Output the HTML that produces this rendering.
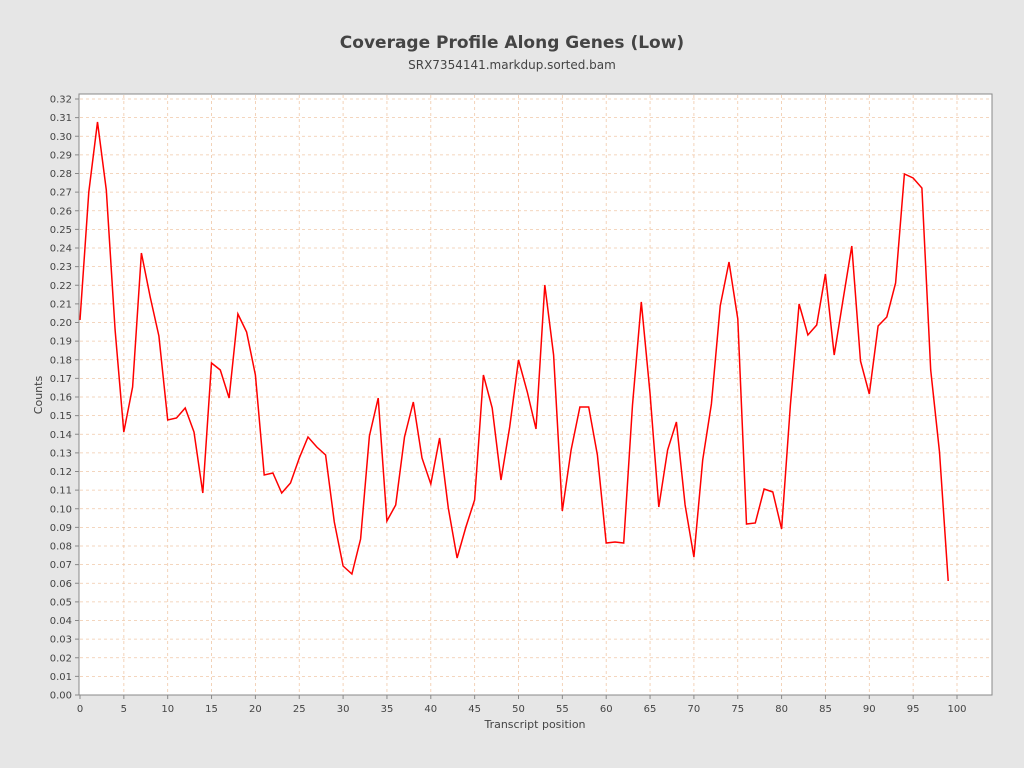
<!DOCTYPE html>
<html><head><meta charset="utf-8"><style>
body{margin:0;background:#e6e6e6;}
svg{display:block;font-family:"DejaVu Sans","Liberation Sans",sans-serif;}
</style></head><body>
<svg width="1024" height="768" xmlns="http://www.w3.org/2000/svg">
<rect width="1024" height="768" fill="#e6e6e6"/>
<text x="512" y="48" text-anchor="middle" font-size="17" font-weight="bold" fill="#444">Coverage Profile Along Genes (Low)</text>
<text x="512" y="69" text-anchor="middle" font-size="12" fill="#444">SRX7354141.markdup.sorted.bam</text>
<rect x="79" y="94" width="913" height="601" fill="#fff" stroke="#888"/>
<g id="grid" stroke="#f0c8a8" stroke-width="0.8" stroke-dasharray="3,3"></g>
<g id="ticks" font-size="10" fill="#444"></g>
<polyline id="line" fill="none" stroke="#ff0000" stroke-width="1.5"/>
<text x="535" y="728" text-anchor="middle" font-size="11" fill="#444">Transcript position</text>
<text x="42" y="395" text-anchor="middle" font-size="11" fill="#444" transform="rotate(-90 42 395)">Counts</text>
</svg>
<script>
var ns="http://www.w3.org/2000/svg",g=document.getElementById("grid"),t=document.getElementById("ticks");
function el(p,tag,a,txt){var e=document.createElementNS(ns,tag);for(var k in a)e.setAttribute(k,a[k]);if(txt!=null)e.textContent=txt;p.appendChild(e);}
for(var i=0;i<=32;i++){var y=695-i*18.625;
 if(i>0)el(g,"line",{x1:80,x2:992,y1:y,y2:y});
 el(t,"line",{x1:75,x2:79,y1:y,y2:y,stroke:"#888"});
 el(t,"text",{x:72,y:y+3.5,"text-anchor":"end"},(i/100).toFixed(2));}
for(var i=0;i<=100;i+=5){var x=80+i*8.77;
 if(i>0)el(g,"line",{x1:x,x2:x,y1:95,y2:694});
 el(t,"line",{x1:x,x2:x,y1:695,y2:699,stroke:"#888"});
 el(t,"text",{x:x,y:712,"text-anchor":"middle"},String(i));}
var ys=[320,192,122,190,330,432,387,253,297,336,420,418,408,432,493,363,370,398,314,332,375,475,473,493,483,458,437,447,455,522,566,574,539,436,398,521,505,437,402,458,484,438,508,558,527,500,375,408,480,427,360,392,429,285,355,511,450,407,407,455,543,542,543,405,302,393,507,450,422,505,557,460,404,306,262,319,524,523,489,492,529,405,304,335,325,274,355,300,246,361,394,326,317,283,174,178,188,370,452,581];
document.getElementById("line").setAttribute("points",ys.map(function(y,i){return (80+i*8.77).toFixed(1)+","+y}).join(" "));
</script>
</body></html>
